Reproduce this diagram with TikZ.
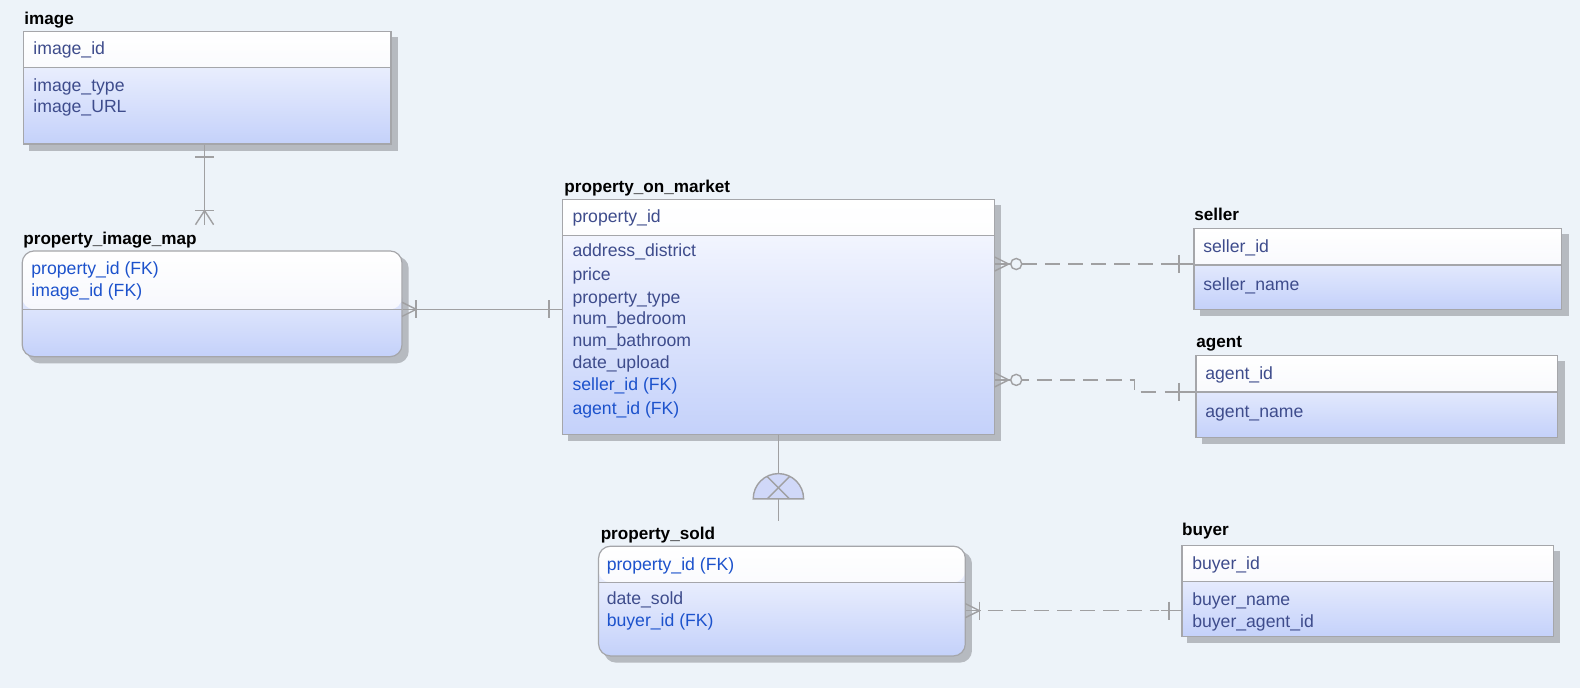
\documentclass[tikz,border=0pt]{standalone}
\usepackage{fontspec}
\setmainfont{Liberation Sans}
\definecolor{bg}{RGB}{237,243,249}
\definecolor{bord}{RGB}{165,166,170}
\definecolor{shad}{RGB}{182,186,192}
\definecolor{hdrbot}{RGB}{240,242,250}
\definecolor{bodytop}{RGB}{250,251,255}
\definecolor{bodybot}{RGB}{196,209,250}
\definecolor{attr}{RGB}{62,76,140}
\definecolor{fk}{RGB}{28,82,204}
\definecolor{conn}{RGB}{160,160,162}
\definecolor{catfill}{RGB}{208,216,248}
\pgfdeclarelayer{bgl}
\pgfdeclarelayer{shadl}
\pgfsetlayers{bgl,shadl,main}
\tikzset{
  entity/.style={rectangle, draw=bord, line width=1.2pt, top color=bodytop, bottom color=bodybot, inner sep=0pt,
    path picture={
      \shade[top color=white,bottom color=hdrbot] (path picture bounding box.north west) rectangle ([yshift=-#1]path picture bounding box.north east);
      \draw[bord,line width=1.2pt] ([yshift=-#1]path picture bounding box.north west) -- ([yshift=-#1]path picture bounding box.north east);}},
  title/.style={anchor=base west, inner sep=0pt, font=\fontsize{17}{20}\selectfont\bfseries, text=black},
  row/.style={anchor=west, inner sep=0pt, text height=12pt, text depth=4pt, font=\fontsize{17.5}{20}\selectfont, text=attr},
  fkrow/.style={row, text=fk},
  conn/.style={draw=conn, line width=1.4pt},
  dconn/.style={conn, dash pattern=on 15pt off 8pt},
}
\begin{document}
\begin{tikzpicture}[x=1pt,y=-1pt]
\begin{pgfonlayer}{bgl}
\path[use as bounding box, fill=bg] (0,0) rectangle (1568,683);
\end{pgfonlayer}

% ---------- entities ----------
\node[entity=36pt, minimum width=365pt, minimum height=112pt] (image) at (205.5,87) {};
\node[entity=58pt, rounded corners=12pt, minimum width=377pt, minimum height=105pt] (pim) at (210.5,301.5) {};
\node[entity=36pt, minimum width=429pt, minimum height=233pt] (pom) at (772.5,314.5) {};
\node[entity=36pt, minimum width=365pt, minimum height=80pt] (seller) at (1367.5,267) {};
\node[entity=36pt, minimum width=359pt, minimum height=81pt] (agent) at (1366.5,393.5) {};
\node[entity=36pt, rounded corners=12pt, minimum width=364pt, minimum height=109pt] (ps) at (776,596.5) {};
\node[entity=36pt, minimum width=369pt, minimum height=91pt] (buyer) at (1357.5,586.5) {};

\begin{pgfonlayer}{shadl}
\foreach \n in {image,pom,seller,agent,buyer}{
  \fill[shad] ([shift={(6pt,-6pt)}]\n.south west) rectangle ([shift={(6pt,-6pt)}]\n.north east);}
\foreach \n in {pim,ps}{
  \fill[shad, rounded corners=12pt] ([shift={(6pt,-6pt)}]\n.south west) rectangle ([shift={(6pt,-6pt)}]\n.north east);}
\end{pgfonlayer}

% ---------- titles ----------
\node[title] (timage) at (24,24) {image};
\node[title] (tpim) at (23,243) {property\_image\_map};
\node[title] (tpom) at (560,191) {property\_on\_market};
\node[title] (tseller) at (1185,219) {seller};
\node[title] (tagent) at (1187,345) {agent};
\node[title] (tps) at (596,535) {property\_sold};
\node[title] (tbuyer) at (1173,531) {buyer};

% ---------- rows ----------
\node[row] (r1) at (33,50) {image\_id};
\node[row] (r2) at (33,87) {image\_type};
\node[row] (r3) at (33,108) {image\_URL};

\node[fkrow] (r4) at (31,268) {property\_id (FK)};
\node[fkrow] (r5) at (31,290) {image\_id (FK)};

\node[row] (r6) at (568,217) {property\_id};
\node[row] (r7) at (568,251) {address\_district};
\node[row] (r8) at (568,274) {price};
\node[row] (r9) at (568,297) {property\_type};
\node[row] (r10) at (568,318) {num\_bedroom};
\node[row] (r11) at (568,340) {num\_bathroom};
\node[row] (r12) at (568,362) {date\_upload};
\node[fkrow] (r13) at (568,384) {seller\_id (FK)};
\node[fkrow] (r14) at (568,407) {agent\_id (FK)};

\node[row] (r15) at (1194,247) {seller\_id};
\node[row] (r16) at (1194,284) {seller\_name};

\node[row] (r17) at (1196,373) {agent\_id};
\node[row] (r18) at (1196,410) {agent\_name};

\node[fkrow] (r19) at (602,562) {property\_id (FK)};
\node[row] (r20) at (602,596) {date\_sold};
\node[fkrow] (r21) at (602,618) {buyer\_id (FK)};

\node[row] (r22) at (1183,561) {buyer\_id};
\node[row] (r23) at (1183,597) {buyer\_name};
\node[row] (r24) at (1183,619) {buyer\_agent\_id};

% ---------- connectors ----------
% image -- property_image_map
\coordinate (c1end) at (203,223);
\draw[conn] (image.south -| c1end) -- (c1end);
\draw[conn] (194,156) -- (212,156);
\draw[conn] (194,209) -- (212,209);
\draw[conn] (194,223) -- (203,209) -- (212,223);

% property_image_map -- property_on_market
\draw[conn] (pim.east |- 0,307) -- (pom.west |- 0,307);
\draw[conn] (399,300) -- (413,307) -- (399,314);
\draw[conn] (413,298) -- (413,316);
\draw[conn] (545,298) -- (545,316);

% property_on_market -- seller
\draw[conn] (pom.east |- 0,262) -- (1003,262);
\draw[conn] (987,255) -- (1001,262) -- (987,269);
\draw[conn] (1008.5,262) circle[radius=5.5pt];
\draw[dconn] (1014,262) -- (seller.west |- 0,262);
\draw[conn] (1156,262) -- (seller.west |- 0,262);
\draw[conn] (1170,253) -- (1170,271);

% property_on_market -- agent
\draw[conn] (pom.east |- 0,377) -- (1003,377);
\draw[conn] (987,370) -- (1001,377) -- (987,384);
\draw[conn] (1008.5,377) circle[radius=5.5pt];
\draw[dconn, dash phase=8pt] (1014,377) -- (1126,377) -- (1126,389) -- (1150,389);
\draw[conn] (1156,389) -- (agent.west |- 0,389);
\draw[conn] (1170,380) -- (1170,398);

% property_on_market -- property_sold (category)
\coordinate (cat) at (772.5,495);
\coordinate (c5end) at (772.5,517);
\draw[conn] (pom.south) -- ([yshift=25pt]cat);
\draw[conn, fill=catfill] ([xshift=-25pt]cat) arc[start angle=180, end angle=360, radius=25] -- cycle;
\draw[conn] ([xshift=-11pt]cat) -- ([shift={(11pt,22pt)}]cat);
\draw[conn] ([xshift=11pt]cat) -- ([shift={(-11pt,22pt)}]cat);
\draw[conn] (cat) -- (c5end);

% property_sold -- buyer
\draw[conn] (ps.east |- 0,606) -- (974,606);
\draw[conn] (958,599) -- (972,606) -- (958,613);
\draw[conn] (972,597) -- (972,615);
\draw[dconn] (980,606) -- (1150,606);
\draw[conn] (1152,606) -- (buyer.west |- 0,606);
\draw[conn] (1160,597) -- (1160,615);
\end{tikzpicture}
\end{document}
